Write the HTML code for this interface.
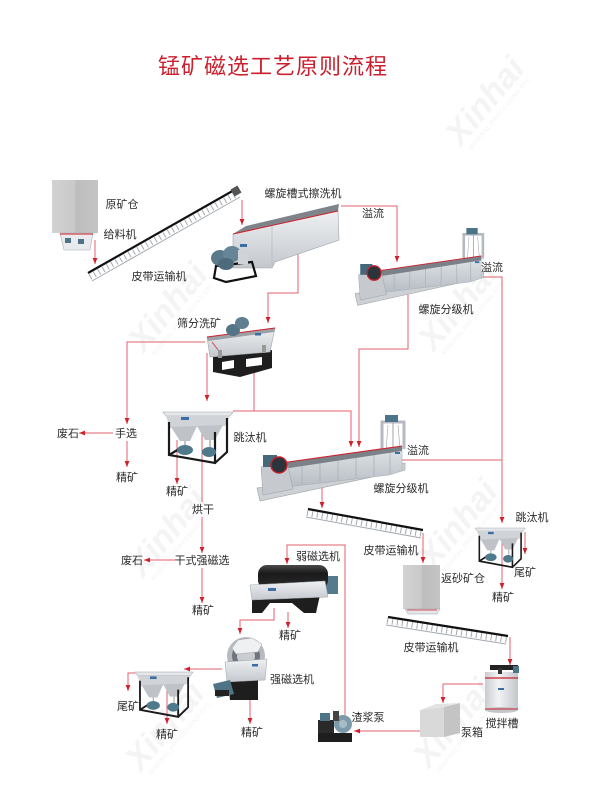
<!DOCTYPE html>
<html><head><meta charset="utf-8">
<style>
html,body{margin:0;padding:0;background:#fff;}
svg{display:block;}
.lbl{font-family:"Liberation Sans","Noto Sans CJK SC",sans-serif;font-size:11px;fill:#2a2a2a;}
.ttl{font-family:"Liberation Sans","Noto Sans CJK SC",sans-serif;font-size:22px;fill:#cc1f2e;letter-spacing:1px;}
.wm{font-family:"Liberation Sans",sans-serif;font-weight:bold;font-style:italic;font-size:34px;fill:#f4f4f4;}
.wm2{font-family:"Liberation Sans",sans-serif;font-size:6px;fill:#f2f2f2;letter-spacing:0.5px;}
.ln{fill:none;stroke:#e0606c;stroke-width:1;}
</style></head>
<body>
<svg width="600" height="800" viewBox="0 0 600 800" xmlns="http://www.w3.org/2000/svg">
<defs>
 <marker id="ah" markerWidth="6" markerHeight="6" refX="6" refY="3" orient="auto" markerUnits="userSpaceOnUse">
  <path d="M0,0.6 L6,3 L0,5.4 z" fill="#d0202c"/>
 </marker>
 <linearGradient id="gBin" x1="0" y1="0" x2="1" y2="0">
  <stop offset="0" stop-color="#d2d2d2"/><stop offset="0.5" stop-color="#c9c9c9"/><stop offset="0.52" stop-color="#bdbdbd"/><stop offset="1" stop-color="#c4c4c4"/>
 </linearGradient>
 <linearGradient id="gMetal" x1="0" y1="0" x2="0" y2="1">
  <stop offset="0" stop-color="#eef0f2"/><stop offset="1" stop-color="#c4c8cd"/>
 </linearGradient>
 <linearGradient id="gTrough" x1="0" y1="0" x2="0" y2="1">
  <stop offset="0" stop-color="#e2e6ea"/><stop offset="1" stop-color="#b6bcc3"/>
 </linearGradient>
 <linearGradient id="gDrum" x1="0" y1="0" x2="0" y2="1">
  <stop offset="0" stop-color="#4a4a4a"/><stop offset="0.35" stop-color="#1a1a1a"/><stop offset="1" stop-color="#2c2c2c"/>
 </linearGradient>
 <linearGradient id="gTank" x1="0" y1="0" x2="1" y2="0">
  <stop offset="0" stop-color="#c9ccd0"/><stop offset="0.4" stop-color="#f2f3f5"/><stop offset="1" stop-color="#c2c6cb"/>
 </linearGradient>

 <g id="jig">
  <polygon points="0,0 70,0 67,4 3,4" fill="#e6e8eb" stroke="#a0a4a8" stroke-width="0.6"/>
  <polygon points="3,4 67,4 62,14 7,16" fill="#d0d3d7"/>
  <polygon points="8,15 34,14 27,29 17,29" fill="#bfc3c8"/>
  <polygon points="34,14 60,13 52,28 42,28" fill="#bfc3c8"/>
  <rect x="18" y="5" width="8" height="3" fill="#3a6ea5"/>
  <path d="M6,10 V43 L52,51 V20 M64,6 V40 L52,51 M6,43 L16,37" stroke="#1a1a1a" stroke-width="2.2" fill="none"/>
  <line x1="22" y1="29" x2="22" y2="34" stroke="#888" stroke-width="1"/>
  <line x1="47" y1="28" x2="47" y2="35" stroke="#888" stroke-width="1"/>
  <ellipse cx="22" cy="38" rx="8" ry="5" fill="#4e7a8c"/>
  <ellipse cx="46" cy="40" rx="7" ry="5" fill="#4e7a8c"/>
 </g>

 <g id="cls">
  <path d="M125,40 V7 H147 V34" stroke="#b5bac0" stroke-width="3" fill="none"/>
  <line x1="136" y1="8" x2="136" y2="34" stroke="#8a8f95" stroke-width="0.8"/>
  <line x1="131" y1="10" x2="129" y2="36" stroke="#a0a5ab" stroke-width="0.6"/>
  <line x1="141" y1="10" x2="143" y2="34" stroke="#a0a5ab" stroke-width="0.6"/>
  <rect x="128" y="0" width="13" height="7" fill="#4b7488"/>
  <polygon points="0,73 148,48 148,55 3,86" fill="#cdd1d6" stroke="#9ca1a7" stroke-width="0.6"/>
  <polygon points="24,48 145,31 145,56 132,60 30,72" fill="url(#gTrough)" stroke="#a5abb2" stroke-width="0.5"/>
  <g stroke="#a9afb6" stroke-width="0.8">
   <line x1="45" y1="45" x2="45" y2="69"/>
   <line x1="63" y1="43" x2="63" y2="67"/>
   <line x1="81" y1="40" x2="81" y2="65"/>
   <line x1="99" y1="38" x2="99" y2="63"/>
   <line x1="117" y1="35" x2="117" y2="61"/>
   <line x1="133" y1="33" x2="133" y2="59"/>
  </g>
  <polygon points="24,48 145,31 145,36 26,54" fill="#7b8188"/>
  <line x1="24" y1="48" x2="145" y2="31" stroke="#d0202c" stroke-width="1"/>
  <rect x="138" y="37" width="5" height="2" fill="#3a6ea5"/>
  <polygon points="4,52 30,46 36,74 6,80" fill="#c6cace" stroke="#9a9ea3" stroke-width="0.5"/>
  <rect x="6" y="40" width="14" height="12" fill="#44697c"/>
  <circle cx="22" cy="50" r="8" fill="#2b333b" stroke="#c0202a" stroke-width="1.5"/>
 </g>
</defs>

<!-- watermarks -->
<g transform="translate(490,100) rotate(-50)"><text class="wm" x="-55" y="8">Xinhai</text><text class="wm2" x="-50" y="18">MINERAL PROCESSING EPC</text></g>
<g transform="translate(463,305) rotate(-50)"><text class="wm" x="-55" y="8">Xinhai</text><text class="wm2" x="-50" y="18">MINERAL PROCESSING EPC</text></g>
<g transform="translate(173,306) rotate(-50)"><text class="wm" x="-55" y="8">Xinhai</text><text class="wm2" x="-50" y="18">MINERAL PROCESSING EPC</text></g>
<g transform="translate(172,531) rotate(-50)"><text class="wm" x="-55" y="8">Xinhai</text><text class="wm2" x="-50" y="18">MINERAL PROCESSING EPC</text></g>
<g transform="translate(463,523) rotate(-50)"><text class="wm" x="-55" y="8">Xinhai</text><text class="wm2" x="-50" y="18">MINERAL PROCESSING EPC</text></g>
<g transform="translate(170,725) rotate(-50)"><text class="wm" x="-55" y="8">Xinhai</text><text class="wm2" x="-50" y="18">MINERAL PROCESSING EPC</text></g>
<g transform="translate(458,722) rotate(-50)"><text class="wm" x="-55" y="8">Xinhai</text><text class="wm2" x="-50" y="18">MINERAL PROCESSING EPC</text></g>

<!-- title -->
<text class="ttl" x="158" y="74">锰矿磁选工艺原则流程</text>

<!-- connectors -->
<g class="ln">
 <path d="M95,240 V264" marker-end="url(#ah)"/>
 <path d="M242,200 V225" marker-end="url(#ah)"/>
 <path d="M341,206 H397 V262" marker-end="url(#ah)"/>
 <path d="M298,245 V293 H268 V323" marker-end="url(#ah)"/>
 <path d="M483,277 H502 V523" marker-end="url(#ah)"/>
 <path d="M402,460 H502"/>
 <path d="M408,293 V349 H359 V447" marker-end="url(#ah)"/>
 <path d="M254,367 V411"/>
 <path d="M233,411 H351 V447" marker-end="url(#ah)"/>
 <path d="M205,342 H127 V424" marker-end="url(#ah)"/>
 <path d="M207,353 V401" marker-end="url(#ah)"/>
 <path d="M113,433 H79" marker-end="url(#ah)"/>
 <path d="M127,441 V467" marker-end="url(#ah)"/>
 <path d="M177,440 V484" marker-end="url(#ah)"/>
 <path d="M202,433 V502"/>
 <path d="M202,517 V553" marker-end="url(#ah)"/>
 <path d="M175,560 H144" marker-end="url(#ah)"/>
 <path d="M202,568 V603" marker-end="url(#ah)"/>
 <path d="M322,472 V508" marker-end="url(#ah)"/>
 <path d="M423,533 V563" marker-end="url(#ah)"/>
 <path d="M525,532 V554" marker-end="url(#ah)"/>
 <path d="M502,543 V589" marker-end="url(#ah)"/>
 <path d="M510,637 V665" marker-end="url(#ah)"/>
 <path d="M483,684 H443 V703" marker-end="url(#ah)"/>
 <path d="M420,731 H354" marker-end="url(#ah)"/>
 <path d="M345,715 V545 H287 V564" marker-end="url(#ah)"/>
 <path d="M288,612 V628" marker-end="url(#ah)"/>
 <path d="M274,608 V620 H240 V634" marker-end="url(#ah)"/>
 <path d="M250,700 V724" marker-end="url(#ah)"/>
 <path d="M222,669 H184" marker-end="url(#ah)"/>
 <path d="M135,673 H128 V691" marker-end="url(#ah)"/>
 <path d="M167,685 V724" marker-end="url(#ah)"/>
</g>

<!-- raw ore bin + feeder -->
<rect x="52" y="180" width="46" height="53" fill="url(#gBin)"/>
<polygon points="60,233 93,233 90,250 64,250" fill="#e8eaee" stroke="#a8adb3" stroke-width="0.6"/>
<line x1="60" y1="234" x2="93" y2="234" stroke="#d0202c" stroke-width="1"/>
<rect x="65" y="238" width="6" height="5" fill="#4b7488"/>
<rect x="78" y="239" width="6" height="5" fill="#4b7488"/>

<!-- conveyor 1 -->
<line x1="92" y1="281" x2="240" y2="197" stroke="#a3a9af" stroke-width="1"/>
<line x1="90" y1="277" x2="238" y2="193" stroke="#a3a9af" stroke-width="6" stroke-dasharray="1 4"/>
<line x1="88" y1="273" x2="236" y2="189" stroke="#111" stroke-width="2.2"/>
<rect x="232" y="187" width="8" height="8" fill="#555" transform="rotate(-30 236 191)"/>

<!-- screw washer -->
<polygon points="233,234 246,226 339,204 338,211" fill="#7e848a"/>
<polygon points="233,234 338,211 339,240 275,262 272,268 233,268" fill="url(#gMetal)" stroke="#9ea3a9" stroke-width="0.6"/>
<line x1="272" y1="226" x2="272" y2="266" stroke="#b0b5bb" stroke-width="0.6"/>
<line x1="233" y1="234" x2="338" y2="211" stroke="#d0202c" stroke-width="1"/>
<rect x="240" y="244" width="7" height="3" fill="#3a6ea5"/>
<polygon points="216,266 252,262 256,276 226,282 214,278" fill="none" stroke="#111" stroke-width="2.2"/>
<ellipse cx="220" cy="258" rx="9" ry="8" fill="#5a7a8b"/>
<ellipse cx="232" cy="254" rx="9" ry="8" fill="#668596"/>
<ellipse cx="226" cy="264" rx="8" ry="6" fill="#4d6b7b"/>
<rect x="238" y="250" width="10" height="14" fill="#d0d3d7"/>

<!-- screen -->
<polygon points="213,357 272,350 272,368 240,377 213,372" fill="#1e1e1e"/>
<polygon points="222,362 234,360 234,368 222,370" fill="#fff"/>
<polygon points="246,359 262,357 262,365 246,367" fill="#fff"/>
<polygon points="207,337 275,328 270,352 210,357" fill="url(#gMetal)" stroke="#9ea3a9" stroke-width="0.6"/>
<polygon points="207,337 275,328 274,332 208,341" fill="#9ba1a7"/>
<line x1="207" y1="337" x2="275" y2="328" stroke="#d0202c" stroke-width="1"/>
<line x1="212" y1="342" x2="222" y2="355" stroke="#d0202c" stroke-width="0.7"/>
<rect x="255" y="333" width="6" height="2.5" fill="#3a6ea5"/>
<ellipse cx="233" cy="330" rx="7" ry="6" fill="#557486"/>
<ellipse cx="242" cy="323" rx="7" ry="6" fill="#5f7e90"/>
<rect x="218" y="350" width="4" height="8" fill="#999"/>
<rect x="262" y="345" width="4" height="8" fill="#999"/>

<!-- classifier 1 & 2 -->
<use href="#cls" transform="translate(355,228) scale(0.87,0.9)"/>
<use href="#cls" transform="translate(257,415)"/>

<!-- jigs -->
<use href="#jig" transform="translate(163,412)"/>
<use href="#jig" transform="translate(475,528) scale(0.72,0.77)"/>
<use href="#jig" transform="translate(135,672) scale(0.83,0.88)"/>

<!-- conveyor 2 -->
<line x1="306" y1="517" x2="421" y2="538" stroke="#a3a9af" stroke-width="1"/>
<line x1="307" y1="513" x2="422" y2="534" stroke="#a3a9af" stroke-width="6" stroke-dasharray="1 4"/>
<line x1="308" y1="509" x2="423" y2="530" stroke="#111" stroke-width="2.2"/>

<!-- return sand bin -->
<rect x="403" y="565" width="37" height="44" fill="url(#gBin)"/>
<polygon points="405,609 440,609 437,614 408,614" fill="#e4e6ea" stroke="#9ea3a9" stroke-width="0.5"/>
<line x1="407" y1="610" x2="437" y2="610" stroke="#d0202c" stroke-width="0.8"/>

<!-- conveyor 3 -->
<line x1="386" y1="625" x2="506" y2="644" stroke="#a3a9af" stroke-width="1"/>
<line x1="387" y1="621" x2="507" y2="640" stroke="#a3a9af" stroke-width="6" stroke-dasharray="1 4"/>
<line x1="388" y1="617" x2="508" y2="636" stroke="#111" stroke-width="2.2"/>

<!-- agitation tank -->
<rect x="485" y="672" width="33" height="38" fill="url(#gTank)"/>
<ellipse cx="501.5" cy="710" rx="16.5" ry="3" fill="#c2c6cb"/>
<line x1="485" y1="678" x2="518" y2="678" stroke="#d0202c" stroke-width="1.2"/>
<line x1="485" y1="709" x2="518" y2="709" stroke="#d0202c" stroke-width="1"/>
<rect x="490" y="665" width="28" height="5" fill="#222"/>
<rect x="498" y="668" width="4" height="6" fill="#333"/>
<rect x="513" y="666" width="6" height="7" fill="#4b7488"/>
<rect x="498" y="688" width="6" height="2" fill="#3a6ea5"/>

<!-- pump box -->
<polygon points="420,710 444,707 444,737 420,737" fill="#d9d9d9"/>
<polygon points="444,707 460,703 460,733 444,737" fill="#c4c4c4"/>
<polygon points="420,710 436,704 460,703 444,707" fill="#e3e3e3"/>

<!-- slurry pump -->
<rect x="318" y="733" width="34" height="9" fill="#1e1e1e"/>
<rect x="318" y="720" width="16" height="13" fill="#2a2a2a"/>
<rect x="320" y="713" width="10" height="8" fill="#4b7488"/>
<circle cx="343" cy="724" r="9" fill="#7d9aaa"/>
<circle cx="343" cy="724" r="4" fill="#a8bcc7"/>
<rect x="333" y="711" width="6" height="10" fill="#444"/>

<!-- weak magnetic separator -->
<rect x="322" y="576" width="16" height="18" fill="#557a8d"/>
<rect x="258" y="565" width="70" height="24" rx="9" fill="url(#gDrum)"/>
<polygon points="252,598 320,595 316,613 304,613 292,603 270,603 262,613 252,613" fill="#1e1e1e"/>
<polygon points="250,585 325,581 328,597 252,600" fill="url(#gMetal)" stroke="#9ea3a9" stroke-width="0.5"/>
<rect x="268" y="588" width="8" height="3" fill="#3a6ea5"/>

<!-- strong magnetic separator -->
<polygon points="228,682 258,680 258,700 230,700" fill="#1e1e1e"/>
<circle cx="246" cy="656" r="19" fill="#b7bbc0"/>
<circle cx="246" cy="656" r="14" fill="#6f757c"/>
<circle cx="246" cy="656" r="9" fill="#c9cdd1"/>
<polygon points="232,648 238,640 252,638 262,644 258,652 236,654" fill="#eef0f2" stroke="#a0a5ab" stroke-width="0.5"/>
<polygon points="225,662 267,659 265,680 227,682" fill="url(#gMetal)" stroke="#9ea3a9" stroke-width="0.5"/>
<rect x="252" y="664" width="6" height="2.5" fill="#3a6ea5"/>
<polygon points="213,684 230,680 234,694 217,698" fill="#4f7486"/>
<rect x="215" y="690" width="14" height="6" fill="#222"/>

<!-- labels -->
<g class="lbl" text-anchor="middle">
 <text x="122" y="208">原矿仓</text>
 <text x="120" y="238">给料机</text>
 <text x="159" y="280">皮带运输机</text>
 <text x="303" y="197">螺旋槽式擦洗机</text>
 <text x="373" y="217">溢流</text>
 <text x="492" y="271">溢流</text>
 <text x="446" y="313">螺旋分级机</text>
 <text x="199" y="327">筛分洗矿</text>
 <text x="68" y="437">废石</text>
 <text x="126" y="437">手选</text>
 <text x="127" y="481">精矿</text>
 <text x="250" y="441">跳汰机</text>
 <text x="177" y="495">精矿</text>
 <text x="203" y="513">烘干</text>
 <text x="418" y="454">溢流</text>
 <text x="401" y="492">螺旋分级机</text>
 <text x="391" y="554">皮带运输机</text>
 <text x="532" y="521">跳汰机</text>
 <text x="525" y="576">尾矿</text>
 <text x="463" y="582">返砂矿仓</text>
 <text x="503" y="601">精矿</text>
 <text x="132" y="564">废石</text>
 <text x="202" y="564">干式强磁选</text>
 <text x="318" y="560">弱磁选机</text>
 <text x="203" y="614">精矿</text>
 <text x="290" y="639">精矿</text>
 <text x="431" y="651">皮带运输机</text>
 <text x="292" y="683">强磁选机</text>
 <text x="128" y="710">尾矿</text>
 <text x="167" y="738">精矿</text>
 <text x="252" y="736">精矿</text>
 <text x="368" y="721">渣浆泵</text>
 <text x="502" y="727">搅拌槽</text>
 <text x="472" y="736">泵箱</text>
</g>
</svg>
</body></html>
